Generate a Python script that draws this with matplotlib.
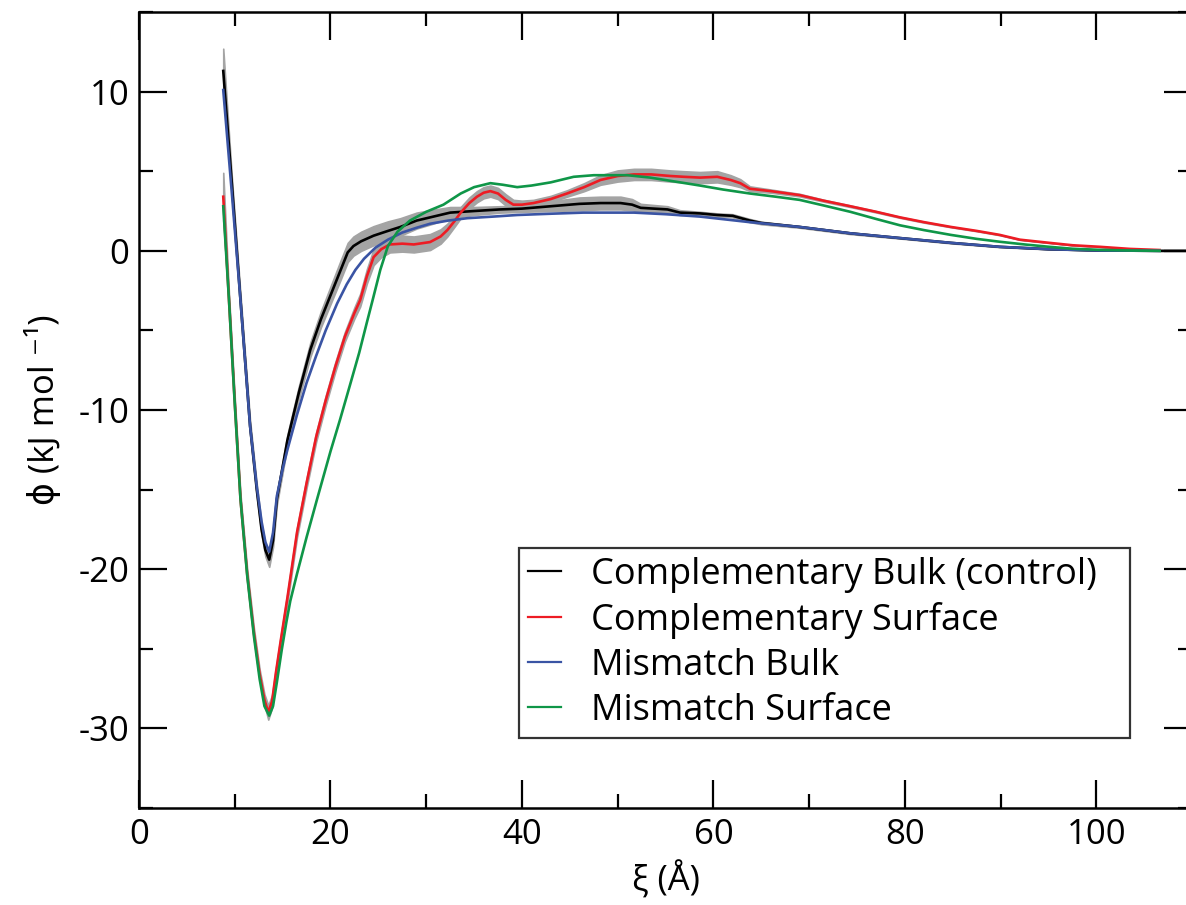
import numpy as np
import matplotlib
matplotlib.use("Agg")
import matplotlib.pyplot as plt
from matplotlib.ticker import MultipleLocator

# complementary bulk (control): position, free energy, error
cb_x = [8.8, 9.7, 10.6, 11.6, 12.3, 12.8, 13.2, 13.6, 14.0, 14.4, 15.5, 16.7, 17.9, 19.0,
        20.0, 21.0, 21.8, 22.4, 23.2, 24.5, 26.0, 27.3, 29.0, 30.4, 32.5, 35.0, 37.7,
        40.0, 43.0, 46.0, 48.2, 50.3, 51.5, 52.4, 55.2, 56.5, 58.6, 60.4, 62.0, 63.8,
        65.0, 69.0, 74.3, 79.5, 84.8, 89.9, 95.1, 100.4, 106.6, 110.0]
cb_y = [11.3, 4.2, -3.1, -11.0, -15.0, -17.5, -18.8, -19.4, -18.2, -15.6, -11.9, -8.9, -6.2, -4.3,
        -2.8, -1.3, -0.1, 0.3, 0.6, 0.95, 1.25, 1.5, 1.9, 2.1, 2.4, 2.5, 2.6,
        2.65, 2.8, 2.95, 3.0, 3.0, 2.9, 2.7, 2.6, 2.4, 2.35, 2.25, 2.2, 1.9,
        1.75, 1.5, 1.1, 0.8, 0.5, 0.25, 0.1, 0.02, 0.0, 0.0]
cb_err = [1.4, 0.4, 0.35, 0.35, 0.35, 0.35, 0.4, 0.45, 0.4, 0.35, 0.35, 0.4, 0.45, 0.5,
          0.55, 0.6, 0.6, 0.6, 0.6, 0.6, 0.6, 0.55, 0.5, 0.45, 0.35, 0.25, 0.2,
          0.2, 0.3, 0.4, 0.4, 0.4, 0.35, 0.25, 0.2, 0.15, 0.1, 0.1, 0.1, 0.1,
          0.08, 0.05, 0.05, 0.03, 0.03, 0.02, 0.01, 0.0, 0.0, 0.0]

# complementary surface
cs_x = [8.8, 9.4, 10.0, 10.6, 11.3, 12.0, 12.6, 13.1, 13.5, 13.9, 14.3, 14.8, 15.5, 16.5,
        17.5, 18.5, 19.5, 20.5, 21.5, 22.5, 23.1, 23.8, 24.5, 25.3, 26.2, 27.5, 28.7,
        30.4, 31.5, 32.2, 33.0, 33.6, 34.5, 35.3, 36.0, 36.7, 37.5, 38.3, 39.1, 40.0,
        41.2, 43.0, 44.7, 46.5, 48.2, 50.0, 51.7, 53.5, 55.5, 56.9, 58.6, 60.4, 61.8,
        62.8, 63.8, 66.0, 69.0, 71.5, 74.3, 77.0, 79.5, 82.0, 84.8, 87.5, 89.9, 92.0,
        95.1, 97.5, 100.4, 103.5, 106.6]
cs_y = [3.4, -3.1, -9.5, -15.6, -20.3, -24.0, -26.6, -28.2, -29.0, -28.3, -26.5, -24.5, -21.8, -17.7,
        -14.6, -11.7, -9.4, -7.3, -5.4, -3.9, -3.1, -1.6, -0.4, 0.1, 0.4, 0.45, 0.4,
        0.55, 0.9, 1.3, 1.9, 2.4, 3.0, 3.4, 3.65, 3.75, 3.6, 3.2, 2.9, 2.9,
        3.0, 3.25, 3.6, 4.0, 4.45, 4.7, 4.8, 4.8, 4.7, 4.65, 4.6, 4.65, 4.45,
        4.25, 3.9, 3.75, 3.5, 3.15, 2.8, 2.45, 2.1, 1.8, 1.5, 1.25, 1.0, 0.7,
        0.5, 0.35, 0.25, 0.12, 0.05]
cs_err = [1.5, 0.35, 0.3, 0.3, 0.3, 0.3, 0.3, 0.35, 0.45, 0.4, 0.3, 0.3, 0.3, 0.3,
          0.3, 0.3, 0.3, 0.3, 0.3, 0.35, 0.4, 0.45, 0.5, 0.5, 0.5, 0.5, 0.5,
          0.5, 0.45, 0.4, 0.35, 0.35, 0.35, 0.35, 0.35, 0.35, 0.35, 0.35, 0.3, 0.25,
          0.2, 0.2, 0.2, 0.25, 0.3, 0.35, 0.35, 0.35, 0.35, 0.35, 0.35, 0.35, 0.3,
          0.25, 0.15, 0.1, 0.08, 0.06, 0.05, 0.04, 0.03, 0.03, 0.02, 0.02, 0.02, 0.01,
          0.01, 0.0, 0.0, 0.0, 0.0]

# mismatch bulk
mb_x = [8.8, 9.7, 10.6, 11.6, 12.3, 12.8, 13.2, 13.6, 14.0, 14.4, 15.0, 15.5, 16.5, 17.5,
        18.5, 19.5, 20.7, 21.7, 22.6, 23.5, 24.7, 26.0, 27.5, 29.0, 30.4, 32.3, 34.3,
        37.0, 39.5, 43.0, 46.4, 51.7, 55.0, 58.6, 63.8, 69.0, 74.3, 79.5, 84.8, 89.9,
        95.1, 100.4, 106.6]
mb_y = [10.1, 3.6, -3.1, -11.0, -14.8, -17.0, -18.3, -18.9, -17.7, -15.4, -13.7, -12.5, -10.3, -8.3,
        -6.6, -5.0, -3.3, -2.1, -1.2, -0.5, 0.2, 0.7, 1.15, 1.45, 1.7, 1.9, 2.05,
        2.15, 2.25, 2.33, 2.4, 2.4, 2.3, 2.15, 1.8, 1.5, 1.1, 0.8, 0.5, 0.25,
        0.1, 0.02, 0.0]

# mismatch surface
ms_x = [8.8, 9.4, 10.0, 10.6, 11.3, 12.0, 12.6, 13.1, 13.6, 14.0, 14.4, 14.9, 15.4, 15.8,
        16.5, 17.5, 18.6, 20.0, 21.0, 22.1, 23.0, 23.8, 24.4, 25.2, 26.0, 27.0, 28.3,
        30.0, 31.8, 33.6, 35.0, 36.7, 38.0, 39.5, 41.0, 43.0, 45.4, 47.5, 49.2, 51.0,
        53.4, 56.0, 58.6, 61.0, 63.8, 66.5, 69.0, 71.5, 74.3, 77.0, 79.5, 82.0, 84.8,
        87.5, 89.9, 92.5, 95.1, 97.5, 100.4, 103.5, 106.6]
ms_y = [2.8, -3.1, -9.6, -15.6, -20.4, -24.2, -26.9, -28.6, -29.2, -28.6, -27.1, -25.1, -23.3, -22.0,
        -20.3, -18.0, -15.6, -12.6, -10.6, -8.3, -6.4, -4.5, -3.1, -1.2, 0.3, 1.2, 1.9,
        2.45, 2.9, 3.6, 4.0, 4.25, 4.15, 4.0, 4.1, 4.3, 4.65, 4.75, 4.75, 4.75,
        4.6, 4.35, 4.1, 3.85, 3.6, 3.4, 3.2, 2.85, 2.45, 2.0, 1.6, 1.3, 1.0,
        0.75, 0.57, 0.4, 0.25, 0.13, 0.06, 0.02, 0.0]

labels = ["Complementary Bulk (control)", "Complementary Surface",
          "Mismatch Bulk", "Mismatch Surface"]
colors = ["#000000", "#ed1c24", "#3a54a4", "#0f9648"]

plt.rcParams['font.family'] = ['Open Sans', 'DejaVu Sans']
plt.rcParams['axes.unicode_minus'] = False

fig = plt.figure(figsize=(11.86, 9.05), dpi=100)
ax = fig.add_axes([0.1172, 0.1072, 0.888, 0.8795])

gray = "#a4a4a4"
cb_x, cb_y, cb_err = np.array(cb_x), np.array(cb_y), np.array(cb_err)
cs_x, cs_y, cs_err = np.array(cs_x), np.array(cs_y), np.array(cs_err)
ax.fill_between(cb_x, cb_y - cb_err, cb_y + cb_err, color=gray, lw=1.2, edgecolor=gray)
ax.fill_between(cs_x, cs_y - cs_err, cs_y + cs_err, color=gray, lw=1.2, edgecolor=gray)

ax.plot(cb_x, cb_y, color=colors[0], lw=1.9, label=labels[0])
ax.plot(cs_x, cs_y, color=colors[1], lw=1.9, label=labels[1])
ax.plot(mb_x, mb_y, color=colors[2], lw=1.9, label=labels[2])
ax.plot(ms_x, ms_y, color=colors[3], lw=1.9, label=labels[3])

ax.set_xlim(0, 110)
ax.set_ylim(-35, 15)
ax.xaxis.set_major_locator(MultipleLocator(20))
ax.xaxis.set_minor_locator(MultipleLocator(10))
ax.yaxis.set_major_locator(MultipleLocator(10))
ax.yaxis.set_minor_locator(MultipleLocator(5))
ax.tick_params(which='both', direction='in', top=True, right=True, width=1.6,
               labelsize=25, pad=7)
ax.tick_params(which='major', length=20)
ax.tick_params(which='minor', length=10)
for s in ax.spines.values():
    s.set_linewidth(1.8)

ax.set_xlabel("ξ (Å)", fontsize=25, labelpad=6)
ax.set_ylabel("ϕ (kJ mol ⁻¹)", fontsize=25, labelpad=12)

leg = ax.legend(loc='lower left', bbox_to_anchor=(0.361, 0.088, 0.58, 0.237),
                mode='expand', fontsize=26, frameon=True, fancybox=False,
                handlelength=0.92, handletextpad=0.83, borderpad=0.25,
                labelspacing=0.25, borderaxespad=0)
leg.get_frame().set_edgecolor('black')
leg.get_frame().set_linewidth(1.6)
for h in leg.get_lines():
    h.set_linewidth(1.6)

fig.savefig("out.png", dpi=100)
